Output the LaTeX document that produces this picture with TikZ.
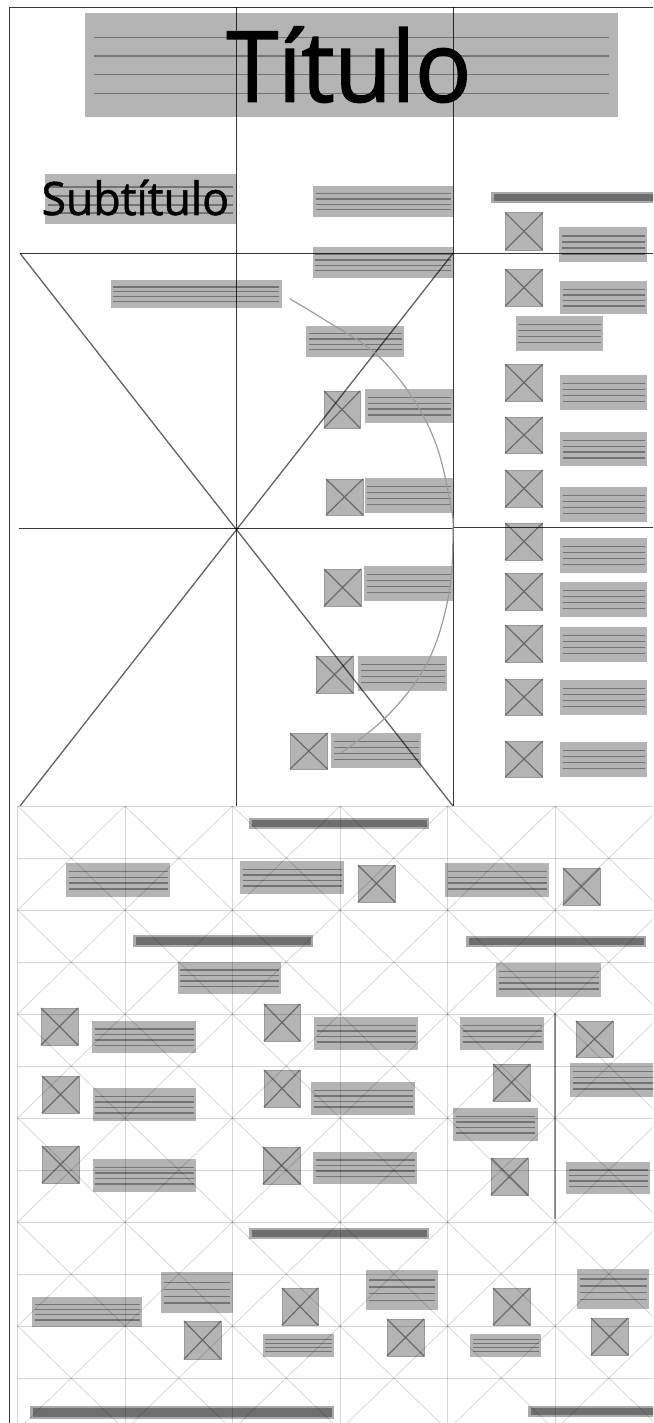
\documentclass[tikz,border=0pt]{standalone}
\usepackage{fontspec}
\setmainfont{Open Sans}
\newfontfamily\ttlfont[FakeBold=1.6,FakeStretch=0.95]{Open Sans}
\newfontfamily\subfont[FakeBold=1.2,FakeStretch=0.97]{Open Sans}
\definecolor{boxgray}{HTML}{B4B4B4}
\definecolor{linegray}{HTML}{747474}
\definecolor{xgray}{HTML}{6A6A6A}
\definecolor{imgedge}{HTML}{9A9A9A}
\definecolor{barframe}{HTML}{A9A9A9}
\definecolor{bardark}{HTML}{6E6E6E}
\definecolor{arcgray}{HTML}{9C9C9C}
\newcommand{\txtblk}[4]{%
  \fill[boxgray] (#1,#2) rectangle (#3,#4);
  \foreach \fr in {0.25,0.42,0.59,0.76}{
    \draw[txtline] ({#1+2.5},{#2+\fr*(#4-#2)}) -- ({#3-2.5},{#2+\fr*(#4-#2)});
  }
}
\newcommand{\imgblk}[4]{%
  \filldraw[fill=boxgray,draw=imgedge,line width=0.8pt] (#1,#2) rectangle (#3,#4);
  \draw[xln] (#1,#2) -- (#3,#4) (#1,#4) -- (#3,#2);
}
\newcommand{\hdbar}[4]{%
  \fill[barframe] (#1,#2) rectangle (#3,#4);
  \fill[bardark] ({#1+2.5},{#2+2.2}) rectangle ({#3-2.5},{#4-2.2});
}
\tikzset{
  txtline/.style={draw=linegray,line width=1.4pt},
  xln/.style={draw=xgray,line width=1.2pt},
  gridln/.style={draw=black,opacity=0.16,line width=0.8pt},
  frameln/.style={draw=black,opacity=0.78,line width=0.9pt},
  diagln/.style={draw=black,opacity=0.62,line width=1.3pt},
}
\begin{document}
\begin{tikzpicture}[x=1pt,y=-1pt]
\clip (0,0) rectangle (653,1423);
\fill[white] (0,0) rectangle (653,1423);

% ---------- title area ----------
\fill[boxgray] (85,13) rectangle (618,117);
\foreach \yy in {37.7,56,74.7,93.3}{\draw[txtline] (94,\yy) -- (609,\yy);}
\node[font=\ttlfont\fontsize{98}{98}\selectfont,inner sep=0pt,anchor=base] (title) at (349,101.7) {Título};

\fill[boxgray] (45,174) rectangle (236,224);
\foreach \yy in {187,196,205,213}{\draw[txtline] (48,\yy) -- (233,\yy);}
\node[font=\subfont\fontsize{46}{46}\selectfont,inner sep=0pt,anchor=base] (subtitle) at (135.3,215) {Subtítulo};

% ---------- upper blocks ----------
\txtblk{313}{186}{453}{217}
\txtblk{312.5}{247}{453}{278}
\txtblk{110.7}{280}{281.7}{308}
\txtblk{306}{326}{404}{357}
\txtblk{365}{389}{453}{423}
\txtblk{364.6}{478}{453}{513}
\txtblk{364}{566}{453}{601}
\txtblk{358}{656}{447}{691}
\txtblk{331}{733}{421}{768}
\imgblk{324}{391}{360}{428}
\imgblk{326}{479}{363}{515}
\imgblk{324}{569}{361}{606}
\imgblk{316}{656}{353}{693}
\imgblk{290}{733}{327.5}{769}

\hdbar{491}{192}{662}{203}
\txtblk{559.3}{227.3}{647.3}{262.3}
\txtblk{560}{281}{647}{314}
\txtblk{515.7}{316}{603}{351}
\foreach \ya/\yb in {375/410,432/466,487/522,538/573,582/617,627/662,680/715,742/777}{\txtblk{560}{\ya}{647}{\yb}}
\imgblk{505.3}{212.7}{542.7}{250}
\imgblk{505.3}{269}{542.7}{306}
\foreach \ya/\yb in {364/401,417/453,470/507,523/560,573/610,625/662,679/715,741/777}{\imgblk{505.3}{\ya}{542.7}{\yb}}

% ---------- lower blocks ----------
\hdbar{249}{818}{429}{829}
\txtblk{66}{863}{170}{897}
\txtblk{240}{861}{344}{894}
\imgblk{358}{865}{395}{902}
\txtblk{445}{863}{549}{897}
\imgblk{563}{868}{600}{905}
\hdbar{133}{935}{313}{947}
\hdbar{466}{936}{646}{947}
\txtblk{177.5}{962}{281}{994}
\txtblk{496}{963}{601}{997}

\imgblk{41}{1008}{78}{1045}
\txtblk{92}{1021}{196}{1053}
\imgblk{264}{1004}{300}{1041}
\txtblk{314}{1017}{418}{1050}
\txtblk{460}{1017}{544}{1050}
\imgblk{576}{1021}{613}{1057}

\imgblk{42}{1076}{79}{1113}
\txtblk{92.5}{1088}{196}{1121}
\imgblk{264}{1070}{300}{1107}
\txtblk{311}{1082}{415}{1115}
\imgblk{493}{1064}{530}{1101}
\txtblk{570}{1063}{662}{1097}
\txtblk{453}{1108}{537.5}{1141}

\imgblk{42}{1146}{79}{1183}
\txtblk{92.5}{1159}{196}{1192}
\imgblk{263}{1147}{300}{1184}
\txtblk{313}{1152}{417}{1184}
\imgblk{491}{1158}{528}{1195}
\txtblk{566}{1162}{650}{1194}
\draw[draw=arcgray,line width=1.8pt] (554.6,1013) -- (554.6,1219);

\hdbar{249}{1228}{429}{1239}
\txtblk{32}{1297}{142}{1327}
\txtblk{161}{1272}{232.5}{1313}
\imgblk{184}{1321}{221}{1359}
\imgblk{282}{1288}{318}{1325}
\txtblk{262.5}{1334}{334}{1357}
\txtblk{366}{1270}{437.5}{1310}
\imgblk{387}{1319}{424}{1356}
\imgblk{493}{1288}{530}{1325}
\txtblk{470}{1334}{541}{1357}
\txtblk{577}{1269}{649}{1309}
\imgblk{591}{1318}{628}{1355}
\hdbar{30}{1406}{334}{1419}
\hdbar{528}{1406}{662}{1417}

% ---------- light grid ----------
\foreach \i in {0,...,5}{\draw[gridln] ({17.5+107.5*\i},806) -- ({17.5+107.5*\i},1430);}
\foreach \j in {0,...,12}{\draw[gridln] (17.5,{806+52*\j}) -- (662,{806+52*\j});}
\foreach \i in {0,...,5}{
  \foreach \k in {0,...,5}{
    \draw[gridln] ({17.5+107.5*\i},{806+104*\k}) -- ({125+107.5*\i},{910+104*\k});
    \draw[gridln] ({125+107.5*\i},{806+104*\k}) -- ({17.5+107.5*\i},{910+104*\k});
  }
}

% ---------- structure lines ----------
\draw[frameln] (9.5,7) -- (653,7);
\draw[frameln,line width=1.3pt] (9.5,7) -- (9.5,1423);
\draw[frameln] (236,7) -- (236,806);
\draw[frameln] (453,7) -- (453,806);
\draw[frameln] (20,253.3) -- (653,253.3);
\draw[frameln,line width=1.8pt] (19,528.5) -- (453,528.5);
\draw[frameln] (453,527.5) -- (653,527.5);
\draw[diagln] (20,253.3) -- (453,806);
\draw[diagln] (453,253.3) -- (20,806);
\draw[draw=arcgray,line width=1.2pt] plot[smooth,tension=0.6] coordinates {(290,299) (325,320) (375,353) (412,397) (437,447) (451,507) (453,533) (450,587) (437,640) (417,680) (383,720) (341,753)};
\end{tikzpicture}
\end{document}
